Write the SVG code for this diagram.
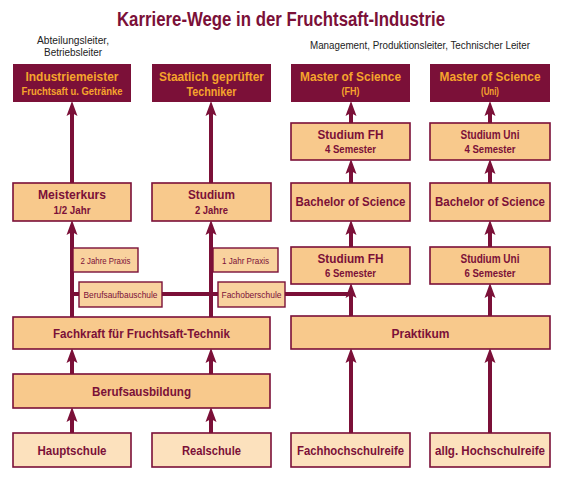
<svg xmlns="http://www.w3.org/2000/svg" width="566" height="480" viewBox="0 0 566 480">
<defs>
<style>
.bg{fill:#ffffff}
.dark{fill:#7b1038}
.light{fill:#f8c98c;stroke:#7b1038;stroke-width:1.6}
.pale{fill:#fce1bd;stroke:#7b1038;stroke-width:1.6}
.small{fill:#f9d29e;stroke:#7b1038;stroke-width:1.4}
text{font-family:"Liberation Sans",Arial,sans-serif;text-anchor:middle}
.t1{font-size:13px;font-weight:bold;fill:#f6a42c}
.t2{font-size:10px;font-weight:bold;fill:#f6a42c}
.m1{font-size:13px;font-weight:bold;fill:#7b1038}
.m2{font-size:10px;font-weight:bold;fill:#7b1038}
.s{font-size:9.5px;fill:#7b1038}
.note{font-size:10px;fill:#222}
.title{font-size:20px;font-weight:bold;fill:#7b1038}
.ln{stroke:#7b1038;stroke-width:4;fill:none}
.arr{stroke:#7b1038;stroke-width:4;fill:none;marker-end:url(#ah)}
</style>
<marker id="ah" markerUnits="userSpaceOnUse" markerWidth="16" markerHeight="12" viewBox="0 0 16 12" refX="3" refY="6" orient="auto">
<path d="M0,0.5 L15,6 L0,11.5 L3,6 z" fill="#7b1038"/>
</marker>
</defs>
<rect class="bg" width="566" height="480"/>
<text class="title" x="281" y="26" textLength="328" lengthAdjust="spacingAndGlyphs">Karriere-Wege in der Fruchtsaft-Industrie</text>
<text class="note" x="73" y="44" textLength="72" lengthAdjust="spacingAndGlyphs">Abteilungsleiter,</text>
<text class="note" x="73" y="56" textLength="58" lengthAdjust="spacingAndGlyphs">Betriebsleiter</text>
<text class="note" x="420" y="49" textLength="220" lengthAdjust="spacingAndGlyphs">Management, Produktionsleiter, Technischer Leiter</text>

<g id="connectors">
<line class="ln" x1="72" y1="294" x2="351" y2="294"/>
<line class="arr" x1="72" y1="433" x2="72" y2="419"/>
<line class="arr" x1="72" y1="374" x2="72" y2="360"/>
<line class="arr" x1="72" y1="317" x2="72" y2="232"/>
<line class="arr" x1="72" y1="183" x2="72" y2="113"/>
<line class="arr" x1="211" y1="433" x2="211" y2="419"/>
<line class="arr" x1="211" y1="374" x2="211" y2="360"/>
<line class="arr" x1="211" y1="317" x2="211" y2="232"/>
<line class="arr" x1="211" y1="183" x2="211" y2="113"/>
<line class="arr" x1="351" y1="433" x2="351" y2="360"/>
<line class="arr" x1="351" y1="316" x2="351" y2="295"/>
<line class="arr" x1="351" y1="247" x2="351" y2="232"/>
<line class="arr" x1="351" y1="183" x2="351" y2="171"/>
<line class="arr" x1="351" y1="123" x2="351" y2="113"/>
<line class="arr" x1="490" y1="433" x2="490" y2="360"/>
<line class="arr" x1="490" y1="316" x2="490" y2="295"/>
<line class="arr" x1="490" y1="247" x2="490" y2="232"/>
<line class="arr" x1="490" y1="183" x2="490" y2="171"/>
<line class="arr" x1="490" y1="123" x2="490" y2="113"/>
</g>

<g id="industriemeister"><rect class="dark" x="13" y="64" width="118" height="38"/><text class="t1" x="72" y="81" textLength="93" lengthAdjust="spacingAndGlyphs">Industriemeister</text><text class="t2" x="72" y="95" textLength="101" lengthAdjust="spacingAndGlyphs">Fruchtsaft u. Getränke</text></g>
<g id="techniker"><rect class="dark" x="152" y="64" width="119" height="38"/><text class="t1" x="211.5" y="81" textLength="105" lengthAdjust="spacingAndGlyphs">Staatlich geprüfter</text><text class="t1" x="211.5" y="96" textLength="50" lengthAdjust="spacingAndGlyphs">Techniker</text></g>
<g id="master-fh"><rect class="dark" x="291" y="64" width="119" height="38"/><text class="t1" x="350.5" y="81" textLength="101" lengthAdjust="spacingAndGlyphs">Master of Science</text><text class="t2" x="350.5" y="95" textLength="18" lengthAdjust="spacingAndGlyphs">(FH)</text></g>
<g id="master-uni"><rect class="dark" x="430" y="64" width="120" height="38"/><text class="t1" x="490" y="81" textLength="101" lengthAdjust="spacingAndGlyphs">Master of Science</text><text class="t2" x="490" y="95" textLength="18" lengthAdjust="spacingAndGlyphs">(Uni)</text></g>

<g id="studium-fh-4"><rect class="light" x="291" y="123" width="119" height="37"/><text class="m1" x="350.5" y="139" textLength="66" lengthAdjust="spacingAndGlyphs">Studium FH</text><text class="m2" x="350.5" y="153" textLength="51" lengthAdjust="spacingAndGlyphs">4 Semester</text></g>
<g id="studium-uni-4"><rect class="light" x="430" y="123" width="120" height="37"/><text class="m1" x="490" y="139" textLength="59" lengthAdjust="spacingAndGlyphs">Studium Uni</text><text class="m2" x="490" y="153" textLength="51" lengthAdjust="spacingAndGlyphs">4 Semester</text></g>

<g id="meisterkurs"><rect class="light" x="13" y="183" width="118" height="38"/><text class="m1" x="72" y="199" textLength="68" lengthAdjust="spacingAndGlyphs">Meisterkurs</text><text class="m2" x="72" y="214" textLength="37" lengthAdjust="spacingAndGlyphs">1/2 Jahr</text></g>
<g id="studium"><rect class="light" x="152" y="183" width="119" height="38"/><text class="m1" x="211.5" y="199" textLength="47" lengthAdjust="spacingAndGlyphs">Studium</text><text class="m2" x="211.5" y="214" textLength="33" lengthAdjust="spacingAndGlyphs">2 Jahre</text></g>
<g id="bachelor-fh"><rect class="light" x="291" y="183" width="119" height="38"/><text class="m1" x="350.5" y="206" textLength="110" lengthAdjust="spacingAndGlyphs">Bachelor of Science</text></g>
<g id="bachelor-uni"><rect class="light" x="430" y="183" width="120" height="38"/><text class="m1" x="490" y="206" textLength="110" lengthAdjust="spacingAndGlyphs">Bachelor of Science</text></g>

<g id="praxis-2"><rect class="small" x="73" y="248" width="65" height="24"/><text class="s" x="105.5" y="263.5" textLength="50" lengthAdjust="spacingAndGlyphs">2 Jahre Praxis</text></g>
<g id="praxis-1"><rect class="small" x="213" y="248" width="65" height="24"/><text class="s" x="245.5" y="263.5" textLength="47" lengthAdjust="spacingAndGlyphs">1 Jahr Praxis</text></g>
<g id="studium-fh-6"><rect class="light" x="291" y="247" width="119" height="37"/><text class="m1" x="350.5" y="263" textLength="66" lengthAdjust="spacingAndGlyphs">Studium FH</text><text class="m2" x="350.5" y="277" textLength="51" lengthAdjust="spacingAndGlyphs">6 Semester</text></g>
<g id="studium-uni-6"><rect class="light" x="430" y="247" width="120" height="37"/><text class="m1" x="490" y="263" textLength="59" lengthAdjust="spacingAndGlyphs">Studium Uni</text><text class="m2" x="490" y="277" textLength="51" lengthAdjust="spacingAndGlyphs">6 Semester</text></g>

<g id="berufsaufbauschule"><rect class="small" x="79" y="282" width="83" height="25"/><text class="s" x="120.5" y="298" textLength="74" lengthAdjust="spacingAndGlyphs">Berufsaufbauschule</text></g>
<g id="fachoberschule"><rect class="small" x="218" y="282" width="67" height="25"/><text class="s" x="251.5" y="298" textLength="60" lengthAdjust="spacingAndGlyphs">Fachoberschule</text></g>

<g id="fachkraft"><rect class="light" x="13" y="317" width="257" height="32"/><text class="m1" x="141.5" y="338" textLength="177" lengthAdjust="spacingAndGlyphs">Fachkraft für Fruchtsaft-Technik</text></g>
<g id="praktikum"><rect class="light" x="291" y="316" width="259" height="33"/><text class="m1" x="420.5" y="338" textLength="58" lengthAdjust="spacingAndGlyphs">Praktikum</text></g>
<g id="berufsausbildung"><rect class="light" x="13" y="374" width="257" height="34"/><text class="m1" x="141.5" y="396" textLength="99" lengthAdjust="spacingAndGlyphs">Berufsausbildung</text></g>

<g id="hauptschule"><rect class="pale" x="13" y="433" width="118" height="34"/><text class="m1" x="72" y="455" textLength="69" lengthAdjust="spacingAndGlyphs">Hauptschule</text></g>
<g id="realschule"><rect class="pale" x="152" y="433" width="119" height="34"/><text class="m1" x="211.5" y="455" textLength="59" lengthAdjust="spacingAndGlyphs">Realschule</text></g>
<g id="fachhochschulreife"><rect class="pale" x="291" y="433" width="119" height="34"/><text class="m1" x="350.5" y="455" textLength="107" lengthAdjust="spacingAndGlyphs">Fachhochschulreife</text></g>
<g id="hochschulreife"><rect class="pale" x="430" y="433" width="120" height="34"/><text class="m1" x="490" y="455" textLength="110" lengthAdjust="spacingAndGlyphs">allg. Hochschulreife</text></g>
</svg>
